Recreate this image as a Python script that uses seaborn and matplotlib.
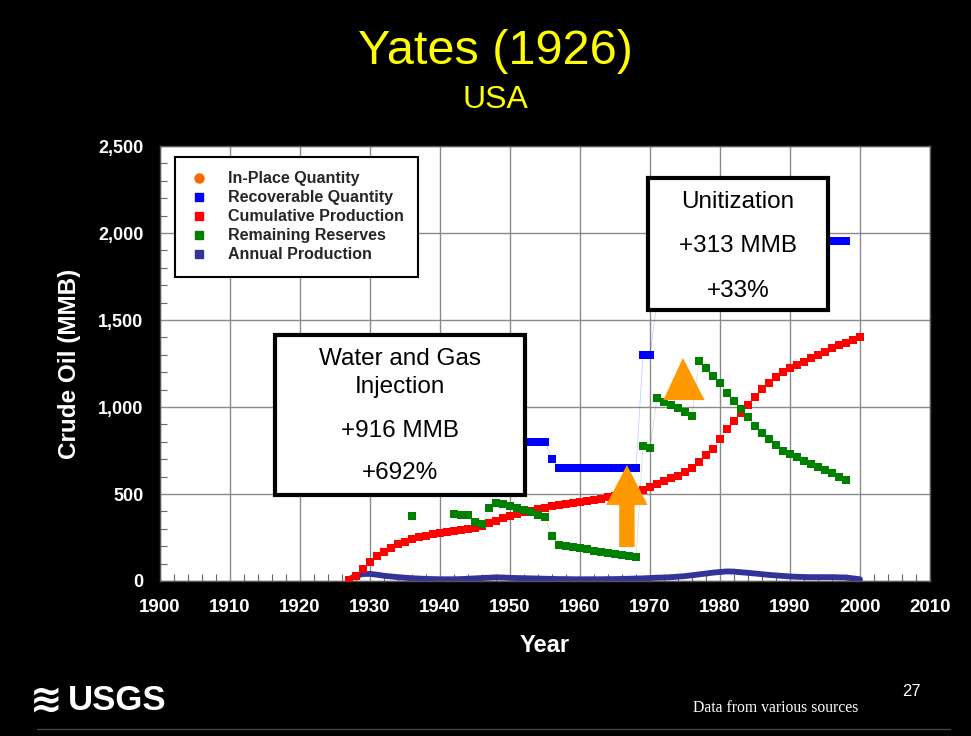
import numpy as np
import pandas as pd
import matplotlib
matplotlib.use("Agg")
import matplotlib.pyplot as plt
import seaborn as sns
from matplotlib.lines import Line2D
from matplotlib.patches import Rectangle, Polygon, FancyArrow
from matplotlib.ticker import MultipleLocator, FuncFormatter

# ---- data (MMB) ----
years = list(range(1927, 2001))
cumulative = [6, 29, 67, 111, 144, 168, 191, 211, 226, 240,
              251, 260, 268, 274, 283, 289, 293, 299, 306, 316,
              331, 347, 362, 374, 385, 396, 405, 413, 421, 429,
              436, 443, 450, 456, 462, 468, 474, 480, 486, 492,
              499, 508, 522, 540, 556, 572, 590, 606, 626, 650,
              686, 724, 760, 816, 874, 921, 964, 1011, 1059, 1103,
              1140, 1174, 1203, 1222, 1241, 1260, 1280, 1299, 1318, 1337,
              1356, 1370, 1385, 1404]
annual = [10, 30, 40, 41, 36, 30, 26, 22, 19, 16,
          14, 12, 11, 10, 10, 10, 11, 13, 15, 17,
          19, 21, 20, 18, 17, 16, 15, 14, 13, 12,
          11, 11, 10, 10, 10, 10, 10, 11, 11, 12,
          13, 14, 15, 17, 19, 20, 22, 25, 28, 33,
          38, 43, 48, 52, 55, 54, 50, 47, 43, 39,
          35, 32, 29, 26, 24, 23, 22, 22, 22, 22,
          21, 20, 15, 10]

res_years = list(range(1936, 1999))
nan = np.nan
remaining = [375, nan, nan, nan, nan, nan, 383, 379, 379, 341,
             328, 418, 450, 440, 430, 420, 408, 396, 382, 368,
             259, 207, 200, 194, 188, 182, 175, 169, 162, 155,
             149, 142, 136, 776, 762, 1050, 1031, 1011, 992, 973,
             948, 1264, 1226, 1180, 1136, 1082, 1036, 987, 941, 893,
             852, 816, 782, 749, 730, 711, 691, 672, 657, 638,
             619, 600, 580]
recoverable = [615, nan, nan, nan, nan, nan, 672, 672, 678, 647,
               644, 749, 797, 800, 800, 800, 800, 800, 800, 800,
               700, 650, 650, 650, 650, 650, 650, 650, 650, 650,
               650, 650, 650, 1300, 1300, 1610, 1610, 1610, 1610, 1610,
               1610, 1955, 1955, 1955, 1955, 1955, 1955, 1955, 1955, 1955,
               1955, 1955, 1955, 1955, 1955, 1955, 1955, 1955, 1955, 1955,
               1955, 1955, 1955]

series_labels = ["In-Place Quantity", "Recoverable Quantity", "Cumulative Production",
                 "Remaining Reserves", "Annual Production"]
series_colors = ["#FF6600", "#0000FF", "#FF0000", "#008000", "#333399"]

prod = pd.DataFrame({"Year": years, "Cumulative": cumulative, "Annual": annual})
res = pd.DataFrame({"Year": res_years, "Remaining": remaining, "Recoverable": recoverable})

sns.set_style("white")
plt.rcParams["font.family"] = ["Liberation Sans", "DejaVu Sans"]

fig = plt.figure(figsize=(9.71, 7.36), dpi=100, facecolor="black")
ax = fig.add_axes([0.1648, 0.2106, 0.7930, 0.5910])
ax.set_facecolor("white")

# faint connecting lines
ax.plot(res["Year"], res["Recoverable"], color="#0000FF", lw=0.6, alpha=0.2, zorder=2)
ax.plot(res["Year"], res["Remaining"], color="#008000", lw=0.6, alpha=0.2, zorder=2)

sns.lineplot(data=prod, x="Year", y="Annual", color="#333399", lw=4.2, ax=ax, zorder=2.5)
sq = dict(marker="s", s=36, linewidth=0, ax=ax, zorder=3)
sns.scatterplot(data=res, x="Year", y="Recoverable", color="#0000FF", **sq)
sns.scatterplot(data=prod, x="Year", y="Cumulative", color="#FF0000", **sq)
sns.scatterplot(data=res, x="Year", y="Remaining", color="#008000", **sq)

ax.set_xlim(1900, 2010)
ax.set_ylim(0, 2500)
ax.xaxis.set_major_locator(MultipleLocator(10))
ax.xaxis.set_minor_locator(MultipleLocator(2))
ax.yaxis.set_major_locator(MultipleLocator(500))
ax.yaxis.set_minor_locator(MultipleLocator(100))
ax.yaxis.set_major_formatter(FuncFormatter(lambda v, p: f"{int(v):,}"))
ax.grid(True, which="major", color="#8a8a8a", lw=1)
ax.set_axisbelow(True)
ax.tick_params(which="both", direction="in", color="#666666", bottom=True, left=True)
ax.tick_params(which="major", length=0)
ax.tick_params(which="minor", length=5, width=0.8)
ax.tick_params(axis="y", pad=12, labelcolor="white", labelsize=13)
ax.tick_params(axis="x", pad=13, labelcolor="white", labelsize=13.5)
for lab in ax.get_yticklabels() + ax.get_xticklabels():
    lab.set_fontweight("bold")
for sp in ax.spines.values():
    sp.set_color("#555555")
    sp.set_linewidth(1)

ax.set_xlabel("Year", color="white", fontsize=17, fontweight="bold", labelpad=13)
ax.set_ylabel("Crude Oil (MMB)", color="white", fontsize=17.5, fontweight="bold", labelpad=12)

# legend
handles = [Line2D([], [], marker="o" if i == 0 else "s", ls="", color=c, markersize=6.5 if i == 0 else 5.5)
           for i, c in enumerate(series_colors)]
leg = ax.legend(handles, series_labels, loc="upper left", bbox_to_anchor=(0.0195, 0.975),
                frameon=True, fancybox=False, edgecolor="black", framealpha=1,
                prop={"weight": "bold", "size": 11.5}, labelspacing=0.25,
                handlelength=1.2, handletextpad=1.2, borderpad=0.9, borderaxespad=0)
leg.get_frame().set_linewidth(1.5)
leg.set_zorder(6)

# annotation boxes
box_kw = dict(transform=ax.transAxes, facecolor="white", edgecolor="black", lw=3, zorder=7)
ax.add_patch(Rectangle((0.1494, 0.1977), 0.3246, 0.3678, **box_kw))
ax.add_patch(Rectangle((0.6338, 0.623), 0.2337, 0.3034, **box_kw))
txt_kw = dict(transform=ax.transAxes, ha="center", va="center", fontsize=17.5, color="black", zorder=8)
ax.text(0.3117, 0.51, "Water and Gas", **txt_kw)
ax.text(0.3117, 0.4466, "Injection", **txt_kw)
ax.text(0.3117, 0.345, "+916 MMB", **txt_kw)
ax.text(0.3117, 0.2486, "+692%", **txt_kw)
ax.text(0.7506, 0.8719, "Unitization", **txt_kw)
ax.text(0.7506, 0.7704, "+313 MMB", **txt_kw)
ax.text(0.7506, 0.667, "+33%", **txt_kw)

# orange arrows
ax.add_patch(FancyArrow(1966.7, 195, 0, 472, width=2.2, head_width=5.9, head_length=230,
                        length_includes_head=True, color="#FF9900", lw=0, zorder=5))
ax.add_patch(Polygon([(1971.9, 1040), (1977.8, 1040), (1974.7, 1282)], closed=True,
                     color="#FF9900", lw=0, zorder=5))

# titles and footer
fig.text(0.51, 1 - 52 / 736, "Yates (1926)", color="#FFFF00", fontsize=35, ha="center", va="center")
fig.text(0.51, 1 - 100 / 736, "USA", color="#FFFF00", fontsize=23, ha="center", va="center")
fig.text(0.048, 1 - 701 / 736, "\u224b", color="white", fontsize=28, ha="center", va="center",
         family=["DejaVu Sans"], fontweight="bold")
fig.text(0.07, 1 - 701 / 736, "USGS", color="white", fontsize=25, ha="left", va="center",
         fontweight="bold")
fig.text(776 / 971, 1 - 708 / 736, "Data from various sources", color="white", fontsize=11.3,
         ha="center", va="center", family=["Liberation Serif"])
fig.text(911 / 971, 1 - 692 / 736, "27", color="white", fontsize=12, ha="center", va="center")
fig.add_artist(Line2D([37 / 971, 950 / 971], [1 - 729 / 736] * 2, color="#444444", lw=1))

fig.savefig("out.png", dpi=100, facecolor="black")
